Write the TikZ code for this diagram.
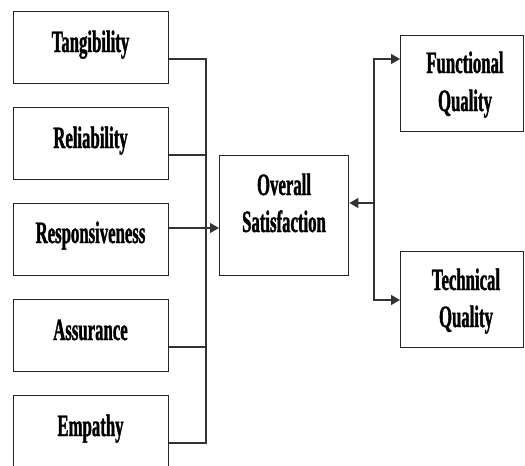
\documentclass[tikz,border=0pt]{standalone}
\usepackage{fontspec}
\newfontfamily\lblfont[FakeStretch=0.54, BoldFeatures={FakeBold=1.2}]{Liberation Serif}
\usetikzlibrary{arrows.meta,calc}
\begin{document}
\begin{tikzpicture}[x=1pt,y=-1pt,
  box/.style={draw=black!85, line width=1.4pt, inner sep=0pt, anchor=north west},
  leftbox/.style={box, minimum width=155pt, minimum height=72pt},
  rightbox/.style={box, minimum width=123pt, minimum height=96pt},
  lbl/.style={font=\lblfont\bfseries\fontsize{31}{37}\selectfont, inner sep=0pt, anchor=base, align=center},
  conn/.style={draw=black!80, line width=1.3pt},
  arr/.style={conn, -{Triangle[length=9pt,width=10pt]}}]
\useasboundingbox (0,0) rectangle (525,466);
\clip (0,0) rectangle (525,466);
% left boxes
\node[leftbox] (tang) at (13,11) {};
\node[leftbox] (rel) at (13,107) {};
\node[leftbox] (resp) at (13,203) {};
\node[leftbox] (ass) at (13,299) {};
\node[leftbox, minimum height=90pt] (emp) at (13,395) {};
% center and right boxes
\node[box, minimum width=129pt, minimum height=120pt] (ov) at (219,155) {};
\node[rightbox] (func) at (400,35) {};
\node[rightbox] (tech) at (400,251) {};
% labels
\node[lbl] (tangT) at (90.5,52) {Tangibility};
\node[lbl] (relT) at (90.5,148) {Reliability};
\node[lbl] (respT) at (90.5,243) {Responsiveness};
\node[lbl] (assT) at (90.5,340) {Assurance};
\node[lbl] (empT) at (90.5,436) {Empathy};
\node[lbl] (ovT1) at (284,195) {Overall};
\node[lbl] (ovT2) at (284,232) {Satisfaction};
\node[lbl] (funcT1) at (465,73) {Functional};
\node[lbl] (funcT2) at (465,111) {Quality};
\node[lbl] (techT1) at (466,290) {Technical};
\node[lbl] (techT2) at (466,327) {Quality};
% left bus
\coordinate (lbus) at (206,443);
\draw[conn] ($(tang.north east)+(0,48)$) -| (lbus) -- ($(emp.north east)+(0,48)$);
\draw[conn] ($(rel.north east)+(0,48)$) -- ++(38,0);
\draw[conn] ($(ass.north east)+(0,48)$) -- ++(38,0);
\draw[arr] ($(resp.north east)+(0,25)$) coordinate (r1) -- (r1 -| ov.west);
% right bus
\coordinate (rb) at (374,203);
\draw[arr] (rb) -- (rb -| ov.east);
\draw[arr] (rb) |- ($(func.north west)+(0,24)$);
\draw[arr] (rb) |- ($(tech.north west)+(0,49)$);
\end{tikzpicture}
\end{document}
